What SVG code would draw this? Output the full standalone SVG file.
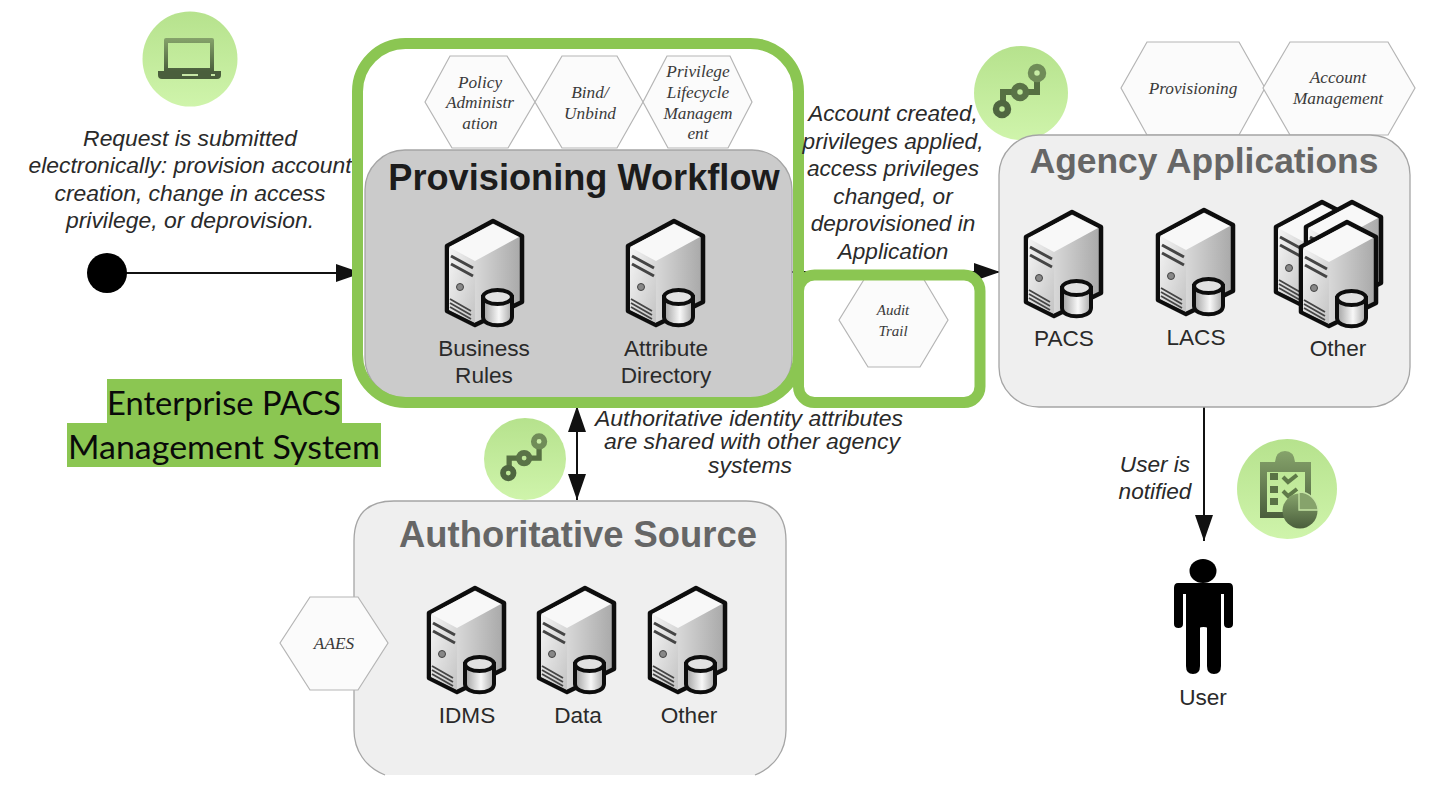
<svg xmlns="http://www.w3.org/2000/svg" width="1434" height="791" viewBox="0 0 1434 791">
<style>
.cap{font-family:"Liberation Sans",Arial,sans-serif;font-size:22.600px;fill:#2a2a2a;text-anchor:middle}
.it{font-style:italic}
.hx{font-family:"Liberation Serif","Times New Roman",serif;font-style:italic;font-size:17.300px;fill:#3a3a3a;text-anchor:middle}
.hex{fill:#fbfbfb;stroke:#b5b5b5;stroke-width:1.200}
.box{stroke:#a5a5a5;stroke-width:1.300}
.title{font-family:"Liberation Sans",Arial,sans-serif;font-weight:bold;text-anchor:middle}
.hl{fill:#8bc652;stroke:none}
.frame{fill:none;stroke:#8bc652;stroke-width:11}
.ln{stroke:#111;stroke-width:2;fill:none}
.ent{font-family:Lato,"Open Sans",sans-serif;font-size:33.500px;fill:#0a0a0a;text-anchor:middle}
</style>
<defs>
<linearGradient id="disc" x1="0" x2="0" y1="0" y2="1"><stop offset="0" stop-color="#b6e28d"/><stop offset="1" stop-color="#cff4ab"/></linearGradient>
<linearGradient id="side" x1="0" x2="1" y1="0" y2="0"><stop offset="0" stop-color="#f4f4f4"/><stop offset="1" stop-color="#a8a8a8"/></linearGradient>
<linearGradient id="front" x1="0" x2="1" y1="0" y2="1"><stop offset="0" stop-color="#f5f5f5"/><stop offset="1" stop-color="#c4c4c4"/></linearGradient>
<linearGradient id="cyl" x1="0" x2="1" y1="0" y2="0"><stop offset="0" stop-color="#a0a0a0"/><stop offset=".55" stop-color="#f8f8f8"/><stop offset="1" stop-color="#a8a8a8"/></linearGradient>
<linearGradient id="icg" x1="0" x2="0" y1="0" y2="1"><stop offset="0" stop-color="#86a36b"/><stop offset="1" stop-color="#4a5e3c"/></linearGradient>
<filter id="soft" x="-10%" y="-10%" width="120%" height="120%"><feGaussianBlur stdDeviation="0.600"/></filter>
<marker id="ah" markerUnits="userSpaceOnUse" markerWidth="28" markerHeight="20" refX="26" refY="9" orient="auto-start-reverse"><path d="M0 0L26 9L0 18Z" fill="#111"/></marker>
<g id="tower" filter="url(#soft)">
<path d="M0 0L29 15V81L-18 104L-46 90V25Z" fill="url(#side)" stroke="#111" stroke-width="4.500" stroke-linejoin="round"/>
<path d="M0 3L26 16L-18 40L-44 26Z" fill="#f8f8f8"/>
<path d="M-44 27L-18 42V102L-44 89Z" fill="url(#front)"/>
<path d="M-42 35L-20 47M-42 43L-20 55" stroke="#444" stroke-width="3" fill="none"/>
<circle cx="-33" cy="66" r="3.500" fill="#888" stroke="#444"/>
<path d="M-43 78L-22 90M-43 82L-22 94M-43 86L-22 98" stroke="#444" stroke-width="1.800" fill="none"/>
</g>
<g id="drum" filter="url(#soft)">
<path d="M-10 76V96C-10 107 19 107 19 96V76Z" fill="url(#cyl)" stroke="#111" stroke-width="4"/>
<ellipse cx="4.500" cy="76" rx="14.500" ry="7" fill="#e2e2e2" stroke="#111" stroke-width="4"/>
</g>
<g id="server"><use href="#tower"/><use href="#drum"/></g>
<g id="chain" filter="url(#soft)">
<path d="M-18 16V-1H16V-20" fill="none" stroke="#566f42" stroke-width="6"/>
<circle cx="-19" cy="16" r="6" fill="#bfe899" stroke="#4f6640" stroke-width="6.500"/>
<circle cx="-1" cy="-1" r="6" fill="#bfe899" stroke="#5a7346" stroke-width="6.500"/>
<circle cx="16" cy="-20" r="6" fill="#c8eca5" stroke="#6f8c58" stroke-width="6.500"/>
</g>
</defs>
<rect width="1434" height="791" fill="#fff"/>

<g id="connectors">
<path class="ln" d="M107 273H362" marker-end="url(#ah)"/>
<path class="ln" d="M785 272H1000" marker-end="url(#ah)"/>
<path class="ln" d="M577 406V500" marker-start="url(#ah)" marker-end="url(#ah)"/>
<path class="ln" d="M1204 407V541" marker-end="url(#ah)"/>
</g>

<g id="start"><circle cx="107" cy="273" r="20" fill="#000"/></g>

<g id="request-note">
<circle cx="190" cy="59" r="47.500" fill="url(#disc)"/>
<path d="M166 38H212Q214 38 214 40V71H164V40Q164 38 166 38ZM168 43V68H210V43Z" fill="url(#icg)" fill-rule="evenodd"/>
<path d="M158 71H221V75Q221 79 217 79H162Q158 79 158 75Z" fill="#4a5e3c"/>
<rect x="182" y="74" width="16" height="2" fill="#c6e6a5"/><rect x="211" y="74" width="4" height="2" fill="#c6e6a5"/>
<text class="cap it" style="font-size:22.900px"><tspan x="190" y="146">Request is submitted</tspan><tspan x="190" y="173">electronically: provision account</tspan><tspan x="190" y="201">creation, change in access</tspan><tspan x="190" y="228">privilege, or deprovision.</tspan></text>
</g>

<g id="enterprise-label">
<rect class="hl" x="107" y="379" width="235" height="44"/>
<rect class="hl" x="67" y="423" width="314" height="44"/>
<text class="ent" x="224" y="415" textLength="234" lengthAdjust="spacingAndGlyphs">Enterprise PACS</text>
<text class="ent" x="224" y="459" textLength="312" lengthAdjust="spacingAndGlyphs">Management System</text>
</g>

<g id="provisioning-workflow">
<polygon class="hex" points="425,102 450,56 507,56 535,102 508,148 452,148"/>
<polygon class="hex" points="535,102 562,56 617,56 643,102 617,148 562,148"/>
<polygon class="hex" points="643,102 667,56 730,56 752,102 728,148 668,148"/>
<text class="hx"><tspan x="480" y="88">Policy</tspan><tspan x="480" y="108">Administr</tspan><tspan x="480" y="129">ation</tspan></text>
<text class="hx"><tspan x="590" y="98">Bind/</tspan><tspan x="590" y="119">Unbind</tspan></text>
<text class="hx"><tspan x="698" y="77">Privilege</tspan><tspan x="698" y="98">Lifecycle</tspan><tspan x="698" y="119">Managem</tspan><tspan x="698" y="139">ent</tspan></text>
<rect class="box" x="365" y="150" width="427" height="248" rx="40" fill="#cbcbcb" stroke="#6d6d6d"/>
<text class="title" x="584" y="190" font-size="36.200" fill="#1c1c1c">Provisioning Workflow</text>
<use href="#server" x="493" y="221"/>
<use href="#server" x="674" y="221"/>
<text class="cap"><tspan x="484" y="356">Business</tspan><tspan x="484" y="383">Rules</tspan></text>
<text class="cap"><tspan x="666" y="356">Attribute</tspan><tspan x="666" y="383">Directory</tspan></text>
<rect class="frame" x="357.500" y="43.500" width="441" height="359" rx="48"/>
</g>

<g id="audit-trail">
<polygon class="hex" points="839,320 868,273 920,273 948,320 920,367 868,367"/>
<text class="hx" style="font-size:15px"><tspan x="893" y="315">Audit</tspan><tspan x="893" y="336">Trail</tspan></text>
<rect class="frame" x="798.500" y="275" width="181.500" height="127.500" rx="16"/>
</g>

<g id="account-note">
<circle cx="1021" cy="93" r="47" fill="url(#disc)"/>
<use href="#chain" x="1021" y="93"/>
<text class="cap it" style="font-size:22.600px"><tspan x="893" y="121">Account created,</tspan><tspan x="893" y="149">privileges applied,</tspan><tspan x="893" y="176">access privileges</tspan><tspan x="893" y="204">changed, or</tspan><tspan x="893" y="231">deprovisioned in</tspan><tspan x="893" y="259">Application</tspan></text>
</g>

<g id="agency-applications">
<polygon class="hex" points="1121,88 1147,42 1239,42 1265,88 1239,135 1147,135"/>
<polygon class="hex" points="1263,88 1290,42 1388,42 1415,88 1388,135 1290,135"/>
<text class="hx"><tspan x="1193" y="94">Provisioning</tspan></text>
<text class="hx"><tspan x="1338" y="83">Account</tspan><tspan x="1338" y="104">Management</tspan></text>
<rect class="box" x="999" y="135" width="411" height="272" rx="40" fill="#efefef"/>
<text class="title" x="1204" y="173" font-size="35.400" fill="#666">Agency Applications</text>
<use href="#server" x="1072" y="212"/>
<use href="#server" x="1204" y="210"/>
<use href="#tower" x="1322" y="202"/>
<use href="#tower" x="1352" y="202"/>
<use href="#server" x="1347" y="222"/>
<text class="cap" x="1064" y="346">PACS</text>
<text class="cap" x="1196" y="345">LACS</text>
<text class="cap" x="1338" y="356">Other</text>
</g>

<g id="shared-note">
<circle cx="525" cy="459" r="41" fill="url(#disc)"/>
<g transform="translate(525 459) scale(.88)"><use href="#chain"/></g>
<text class="cap it" style="font-size:22px" x="749" y="425.500" textLength="308" lengthAdjust="spacingAndGlyphs">Authoritative identity attributes</text>
<text class="cap it" style="font-size:22px" x="752" y="449" textLength="296" lengthAdjust="spacingAndGlyphs">are shared with other agency</text>
<text class="cap it" style="font-size:22px" x="750" y="472.500" textLength="84" lengthAdjust="spacingAndGlyphs">systems</text>
</g>

<g id="authoritative-source">
<path d="M385 775C365 767 354 750 354 730V541Q354 501 394 501H746Q786 501 786 541V730C786 750 775 767 755 775Z" fill="#efefef"/>
<path class="box" d="M385 775C365 767 354 750 354 730V541Q354 501 394 501H746Q786 501 786 541V730C786 750 775 767 755 775" fill="none"/>
<polygon class="hex" points="280,643 310,597 358,597 388,643 358,690 310,690"/>
<text class="hx" x="334" y="649">AAES</text>
<text class="title" x="578" y="547" font-size="36.400" fill="#666">Authoritative Source</text>
<use href="#server" x="475" y="588"/>
<use href="#server" x="585" y="588"/>
<use href="#server" x="696" y="588"/>
<text class="cap" x="467" y="723">IDMS</text>
<text class="cap" x="578" y="723">Data</text>
<text class="cap" x="689" y="723">Other</text>
</g>

<g id="user-note">
<text class="cap it"><tspan x="1155" y="472">User is</tspan><tspan x="1155" y="499">notified</tspan></text>
<circle cx="1287" cy="489" r="50" fill="url(#disc)"/>
<path d="M1260 462H1275Q1276 451 1285 451Q1294 451 1295 462H1311V518H1260ZM1267 472V512H1305V472Z" fill="url(#icg)" fill-rule="evenodd"/>
<path d="M1270 473h8v7h-8zM1270 486h8v7h-8zM1270 498h8v7h-8z" fill="#5a7346"/>
<path d="M1283 477l5 5l9-7M1283 491l5 5l9-7" fill="none" stroke="#5f7a49" stroke-width="4"/>
<circle cx="1300" cy="511" r="17.500" fill="url(#icg)"/>
<path d="M1299 492A19 19 0 0 1 1318 510H1299Z" fill="#86a36b" stroke="#c6e6a5" stroke-width="1.300"/>
</g>

<g id="user">
<ellipse cx="1203" cy="571" rx="13.500" ry="12" fill="#000"/>
<path d="M1178 583H1229Q1233 583 1233 588V624Q1233 628 1228.500 628Q1224 628 1224 624V594H1221V666Q1221 674 1214 674Q1207 674 1207 666V628Q1207 627 1203.500 627Q1200 627 1200 628V666Q1200 674 1193 674Q1186 674 1186 666V594H1183V624Q1183 628 1178.500 628Q1174 628 1174 624V588Q1174 583 1178 583Z" fill="#000"/>
<text class="cap" x="1203" y="705">User</text>
</g>
</svg>
